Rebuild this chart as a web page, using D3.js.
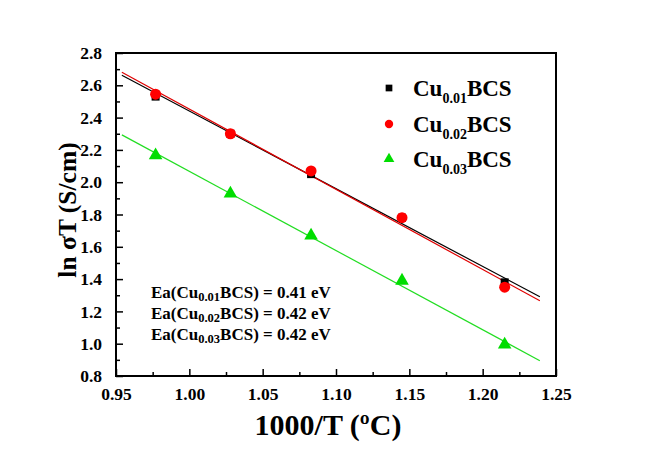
<!DOCTYPE html>
<html><head><meta charset="utf-8">
<script src="https://cdn.jsdelivr.net/npm/d3@7"></script>
<style>body{margin:0;background:#fff}svg{display:block}</style>
</head><body><svg id="c" width="646" height="452"></svg>
<script>
const xVals = [0.977, 1.028, 1.083, 1.145, 1.215];
const cu001 = [2.53, 2.30, 2.05, 1.78, 1.38];
const cu002 = [2.545, 2.30, 2.07, 1.78, 1.35];
const cu003 = [2.167, 1.93, 1.67, 1.39, 0.995];
const fitX = [0.954, 1.239];
const fit001 = [2.662, 1.291];
const fit002 = [2.681, 1.266];
const fit003 = [2.293, 0.895];
const seriesNames = ["0.01", "0.02", "0.03"];
const eaValues = ["0.41", "0.42", "0.42"];
const xTicks = [0.95, 1.00, 1.05, 1.10, 1.15, 1.20, 1.25];
const yTicks = [0.8, 1.0, 1.2, 1.4, 1.6, 1.8, 2.0, 2.2, 2.4, 2.6, 2.8];

const FONT = "'Liberation Serif', 'Times New Roman', Times, serif";
const svg = d3.select("#c");
const L = 116, R = 556, T = 53, B = 376;
const x = d3.scaleLinear().domain([0.95, 1.25]).range([L, R]);
const y = d3.scaleLinear().domain([0.8, 2.8]).range([B, T]);

svg.append("rect").attr("x", L).attr("y", T).attr("width", R - L).attr("height", B - T)
  .attr("fill", "none").attr("stroke", "#000").attr("stroke-width", 2);

function styleText(sel, size) {
  sel.style("font-family", FONT).style("font-weight", "bold").style("font-size", size + "px").attr("fill", "#000");
}

const xMinor = d3.range(0.975, 1.25, 0.05);
const yMinor = d3.range(0.9, 2.8, 0.2);
const gx = svg.append("g").attr("transform", `translate(0,${B})`)
  .call(d3.axisBottom(x).tickValues(xTicks).tickFormat(d3.format(".2f")).tickSizeInner(-7).tickSizeOuter(0).tickPadding(12));
gx.select(".domain").remove();
styleText(gx.selectAll("text"), 17.5);
gx.selectAll("line").attr("stroke-width", 1.5);
const gxm = svg.append("g").attr("transform", `translate(0,${B})`)
  .call(d3.axisBottom(x).tickValues(xMinor).tickFormat("").tickSizeInner(-4).tickSizeOuter(0));
gxm.select(".domain").remove();
gxm.selectAll("line").attr("stroke-width", 1.5);

const gy = svg.append("g").attr("transform", `translate(${L},0)`)
  .call(d3.axisLeft(y).tickValues(yTicks).tickFormat(d3.format(".1f")).tickSizeInner(-7).tickSizeOuter(0).tickPadding(14));
gy.select(".domain").remove();
styleText(gy.selectAll("text"), 17.5);
gy.selectAll("line").attr("stroke-width", 1.5);
const gym = svg.append("g").attr("transform", `translate(${L},0)`)
  .call(d3.axisLeft(y).tickValues(yMinor).tickFormat("").tickSizeInner(-4).tickSizeOuter(0));
gym.select(".domain").remove();
gym.selectAll("line").attr("stroke-width", 1.5);

styleText(svg.append("text").attr("x", 328).attr("y", 435).attr("text-anchor", "middle").text("1000/T (ºC)"), 30);
styleText(svg.append("text").attr("transform", "translate(76,210) rotate(-90)").attr("text-anchor", "middle").text("ln σT (S/cm)"), 25.5);

const colors = ["#000000", "#ff0000", "#00dd00"];
const lineColors = ["#000000", "#e00000", "#22dd22"];
const fits = [fit001, fit002, fit003];
const line = d3.line().x(d => x(d[0])).y(d => y(d[1]));
fits.forEach((f, i) => {
  svg.append("path").datum(fitX.map((v, j) => [v, f[j]])).attr("d", line)
    .attr("fill", "none").attr("stroke", lineColors[i]).attr("stroke-width", 1.2);
});

const sq = d3.symbol().type(d3.symbolSquare).size(64);
const ci = d3.symbol().type(d3.symbolCircle).size(95);
const tr = d3.symbol().type(d3.symbolTriangle).size(80);
const syms = [sq, ci, tr];
const data = [cu001, cu002, cu003];
data.forEach((s, i) => {
  svg.append("g").selectAll("path").data(s).join("path")
    .attr("transform", (d, j) => `translate(${x(xVals[j])},${y(d)})`)
    .attr("d", syms[i]).attr("fill", colors[i]);
});

const legY = [88, 124, 159];
const legSyms = [d3.symbol().type(d3.symbolSquare).size(45), d3.symbol().type(d3.symbolCircle).size(55), d3.symbol().type(d3.symbolTriangle).size(50)];
seriesNames.forEach((n, i) => {
  svg.append("path").attr("transform", `translate(389,${legY[i]})`).attr("d", legSyms[i]).attr("fill", colors[i]);
  const t = svg.append("text").attr("x", 413).attr("y", legY[i] + 8);
  styleText(t, 23);
  t.append("tspan").text("Cu");
  t.append("tspan").style("font-size", "14px").attr("dy", 7).text(n);
  t.append("tspan").attr("dy", -7).text("BCS");
});

const annY = [298, 319, 340];
eaValues.forEach((v, i) => {
  const t = svg.append("text").attr("x", 151).attr("y", annY[i]);
  styleText(t, 17);
  t.append("tspan").text("Ea(Cu");
  t.append("tspan").style("font-size", "12.5px").attr("dy", 3).text(seriesNames[i]);
  t.append("tspan").attr("dy", -3).text("BCS) = " + v + " eV");
});
</script></body></html>
